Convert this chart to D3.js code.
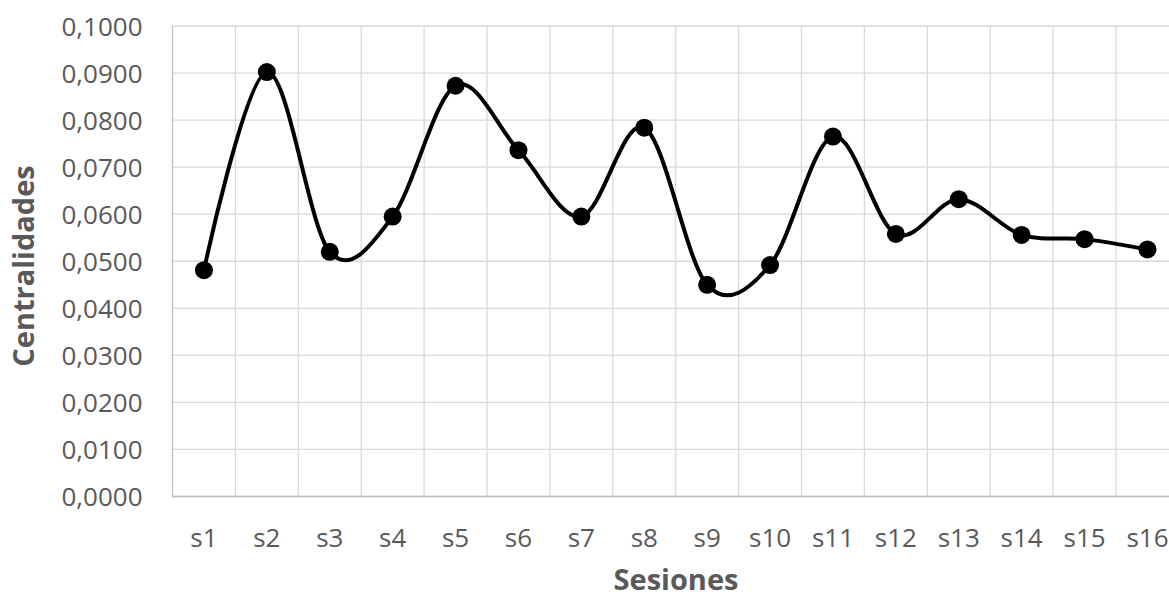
<!DOCTYPE html>
<html><head><meta charset="utf-8">
<script src="https://cdn.jsdelivr.net/npm/d3@7"></script>
<style>body{margin:0;background:#fff}svg{display:block}</style>
</head><body>
<script>
const categories = ["s1","s2","s3","s4","s5","s6","s7","s8","s9","s10","s11","s12","s13","s14","s15","s16"];
const values = [0.0481,0.0902,0.0520,0.0595,0.0873,0.0736,0.0595,0.0784,0.0450,0.0492,0.0765,0.0558,0.0632,0.0556,0.0547,0.0525];
const yTicks = [0,0.01,0.02,0.03,0.04,0.05,0.06,0.07,0.08,0.09,0.1];
const yTitle = "Centralidades";
const xTitle = "Sesiones";

(function(){
const W = 1169, H = 599;
const pLeft = 172.5, pTop = 26, pBottom = 496.5, pRight = pLeft + 16*62.9;
const svg = d3.select("body").append("svg").attr("width", W).attr("height", H);
const x = d3.scaleBand().domain(categories).range([pLeft, pRight]);
const y = d3.scaleLinear().domain([0, 0.1]).range([pBottom, pTop]);
const font = "'Open Sans', sans-serif";
const textCol = "#595959";

svg.append("g").selectAll("line").data(yTicks).join("line")
  .attr("x1", pLeft).attr("x2", pRight).attr("y1", d => y(d)).attr("y2", d => y(d))
  .attr("stroke", "#d9d9d9").attr("stroke-width", 1.3);
svg.append("g").selectAll("line").data(categories.slice(1)).join("line")
  .attr("x1", d => x(d)).attr("x2", d => x(d)).attr("y1", pTop).attr("y2", pBottom)
  .attr("stroke", "#d9d9d9").attr("stroke-width", 1.3);
svg.append("line").attr("x1", pLeft).attr("x2", pLeft).attr("y1", pTop).attr("y2", pBottom)
  .attr("stroke", "#bfbfbf").attr("stroke-width", 1.3);
svg.append("line").attr("x1", pLeft).attr("x2", pRight).attr("y1", pBottom).attr("y2", pBottom)
  .attr("stroke", "#bfbfbf").attr("stroke-width", 1.3);

const fmt = d => d3.format(".4f")(d).replace(".", ",");
const yAxis = d3.axisLeft(y).tickValues(yTicks).tickFormat(fmt).tickSize(0).tickPadding(30);
const gy = svg.append("g").attr("transform", `translate(${pLeft},0)`).call(yAxis);
gy.select(".domain").remove();
gy.selectAll("text").attr("font-family", font).attr("font-size", 26).attr("fill", textCol).attr("dy", "0.36em");

const xAxis = d3.axisBottom(x).tickSize(0);
const gx = svg.append("g").attr("transform", `translate(0,${pBottom})`).call(xAxis);
gx.select(".domain").remove();
gx.selectAll("text").attr("font-family", font).attr("font-size", 26).attr("fill", textCol)
  .attr("dy", null).attr("y", 50.5);

const line = d3.line().x((d,i) => x(categories[i]) + x.bandwidth()/2).y(d => y(d))
  .curve(d3.curveCatmullRom.alpha(0));
svg.append("path").datum(values).attr("d", line).attr("fill", "none")
  .attr("stroke", "#000").attr("stroke-width", 4);
svg.append("g").selectAll("circle").data(values).join("circle")
  .attr("cx", (d,i) => x(categories[i]) + x.bandwidth()/2).attr("cy", d => y(d))
  .attr("r", 9).attr("fill", "#000");

svg.append("text").attr("transform", `translate(34,266) rotate(-90)`)
  .attr("text-anchor", "middle").attr("font-family", font).attr("font-weight", "bold")
  .attr("font-size", 29).attr("fill", textCol).text(yTitle);
svg.append("text").attr("x", 676).attr("y", 590)
  .attr("text-anchor", "middle").attr("font-family", font).attr("font-weight", "bold")
  .attr("font-size", 29).attr("fill", textCol).text(xTitle);
})();
</script>
</body></html>
